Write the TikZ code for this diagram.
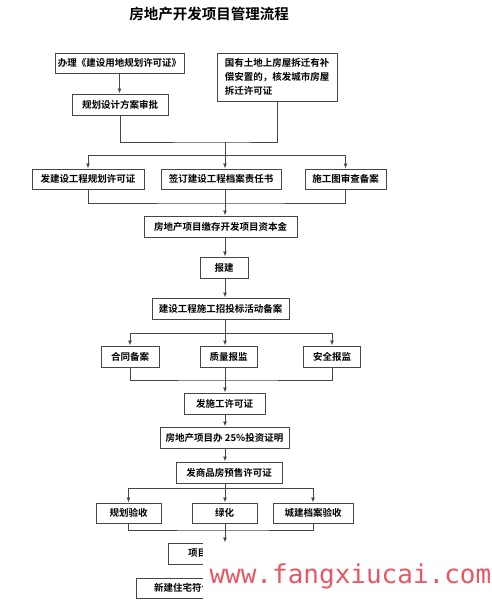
\documentclass[tikz,border=0pt]{standalone}
\usepackage{fontspec}
\newfontfamily\cjkbold{Noto Sans CJK SC Bold}
\newfontfamily\wmfont{DejaVu Sans Mono}
\usetikzlibrary{arrows.meta, positioning, calc}
\definecolor{linegray}{RGB}{70,70,70}
\definecolor{wmred}{RGB}{232,88,100}

\begin{document}
\begin{tikzpicture}[x=1pt, y=-1pt,
    every node/.style={font=\cjkbold\fontsize{9.5}{14}\selectfont, text=black},
    box/.style={draw=linegray, line width=1pt, inner sep=0pt, minimum height=21pt},
    line/.style={draw=linegray, line width=0.9pt},
    arrow/.style={line, -{Latex[length=5pt, width=4pt]}},
    title/.style={font=\cjkbold\fontsize{14.5}{16}\selectfont}
]
\useasboundingbox (0,0) rectangle (492,603);

% ============ TITLE ============
\node[title] (title) at (209,14) {房地产开发项目管理流程};

% ============ LAND USE / DEMOLITION ============
\node[box, minimum width=129pt, minimum height=20pt] (yongdi) at (119.5,63) {办理《建设用地规划许可证》};
\node[box, minimum width=120pt, minimum height=48pt, align=left] (chaiqian) at (277,77) {国有土地上房屋拆迁有补\\偿安置的，核发城市房屋\\拆迁许可证};
\node[box, minimum width=96pt] (fangan) at (120,104.5) {规划设计方案审批};

% ============ PERMITS ============
\node[box, minimum width=112pt, minimum height=20pt] (guihua) at (88,179) {发建设工程规划许可证};
\node[box, minimum width=120pt, minimum height=20pt] (zeren) at (221,179) {签订建设工程档案责任书};
\node[box, minimum width=81pt, minimum height=20pt] (shentu) at (345.5,179) {施工图审查备案};

\node[box, minimum width=153pt] (zijin) at (220.5,226.5) {房地产项目缴存开发项目资本金};
\node[box, minimum width=48pt] (baojian) at (224,267.5) {报建};
\node[box, minimum width=137pt] (zhaobiao) at (220.5,308.5) {建设工程施工招投标活动备案};

% ============ FILING ============
\node[box, minimum width=58pt] (hetong) at (130,356.5) {合同备案};
\node[box, minimum width=57pt] (zhiliang) at (228.5,356.5) {质量报监};
\node[box, minimum width=57pt] (anquan) at (332,356.5) {安全报监};

\node[box, minimum width=81pt] (shigong) at (224.5,403.5) {发施工许可证};
\node[box, minimum width=129pt] (touzi) at (224.5,437.5) {房地产项目办 25\%投资证明};
\node[box, minimum width=106pt] (yushou) at (229,472.5) {发商品房预售许可证};

% ============ ACCEPTANCE ============
\node[box, minimum width=65pt, minimum height=20pt] (yanshou) at (128.5,513) {规划验收};
\node[box, minimum width=65pt, minimum height=20pt] (lvhua) at (224.5,513) {绿化};
\node[box, minimum width=80pt, minimum height=20pt] (dangan) at (313,513) {城建档案验收};

\node[box, minimum width=114pt] (jungong) at (225,553.5) {};
\node[anchor=west] (jungongtext) at ([xshift=17pt]jungong.west) {项目};
\node[box, minimum width=178pt, minimum height=20pt] (fuhe) at (225,588) {};
\node[anchor=west] (fuhetext) at ([xshift=15pt]fuhe.west) {新建住宅符合};

% ============ CONNECTORS ============
\coordinate (spine) at (225,0);
\coordinate (join1) at (225,142);
\coordinate (bar1) at (225,155);
\coordinate (join2) at (225,203);
\coordinate (bar3) at (225,333);
\coordinate (join3) at (225,380);
\coordinate (bar4) at (225,488);
\coordinate (join4) at (225,530);

\draw[arrow] (yongdi.south) -- (yongdi.south |- fangan.north);
\draw[line] (fangan.south) |- (join1) -| (chaiqian.south);
\draw[line] (join1) -- (bar1);
\draw[arrow] (bar1) -| (guihua.north);
\draw[arrow] (bar1) -| (shentu.north);
\draw[arrow] (bar1) -- (bar1 |- zeren.north);

\draw[line] (guihua.south) |- (join2) -| (shentu.south);
\draw[arrow] (spine |- zeren.south) -- (spine |- zijin.north);
\draw[arrow] (spine |- zijin.south) -- (spine |- baojian.north);
\draw[arrow] (spine |- baojian.south) -- (spine |- zhaobiao.north);

\draw[line] (spine |- zhaobiao.south) -- (bar3);
\draw[arrow] (bar3) -| (hetong.north);
\draw[arrow] (bar3) -| (anquan.north);
\draw[arrow] (bar3) -- (bar3 |- zhiliang.north);

\draw[line] (hetong.south) |- (join3) -| (anquan.south);
\draw[arrow] (spine |- zhiliang.south) -- (spine |- shigong.north);
\draw[arrow] (spine |- shigong.south) -- (spine |- touzi.north);
\draw[arrow] (spine |- touzi.south) -- (spine |- yushou.north);

\draw[line] (spine |- yushou.south) -- (bar4);
\draw[arrow] (bar4) -| (yanshou.north);
\draw[arrow] (bar4) -| (dangan.north);
\draw[arrow] (bar4) -- (bar4 |- lvhua.north);

\draw[line] (yanshou.south) |- (join4) -| (dangan.south);
\draw[arrow] (spine |- lvhua.south) -- (spine |- jungong.north);

% ============ WATERMARK ============
\fill[white] (203,542) rectangle (492,603);
\node[font=\wmfont\fontsize{26}{26}\selectfont, text=wmred, anchor=base west] (wm) at (206,583) {www.fangxiucai.com};

\end{tikzpicture}
\end{document}
